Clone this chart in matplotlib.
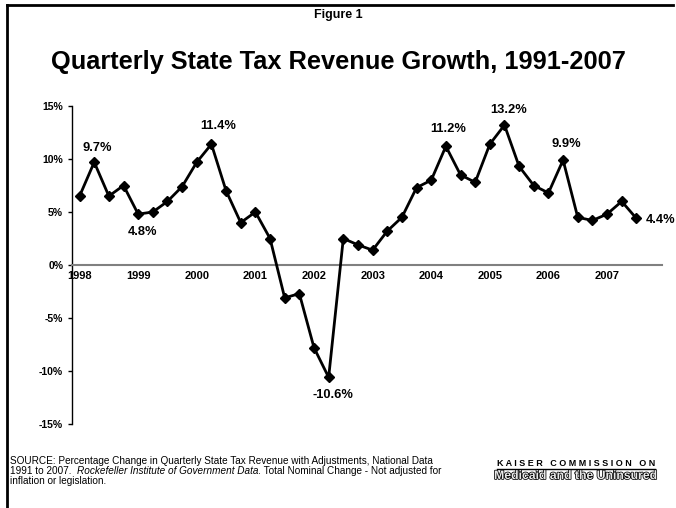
import matplotlib
matplotlib.use("Agg")
import matplotlib.pyplot as plt
from matplotlib.lines import Line2D
import matplotlib.patheffects as pe

plt.rcParams['font.family'] = ['Liberation Sans', 'DejaVu Sans']

# ---- data ----
quarters = [f"{y}Q{q}" for y in range(1998, 2008) for q in range(1, 5)][:39]
growth = [6.5, 9.7, 6.5, 7.5, 4.8, 5.0, 6.0, 7.4, 9.7, 11.4,
          7.0, 4.0, 5.0, 2.5, -3.1, -2.7, -7.8, -10.6, 2.5, 1.9,
          1.4, 3.2, 4.5, 7.3, 8.0, 11.2, 8.5, 7.8, 11.4, 13.2,
          9.3, 7.5, 6.8, 9.9, 4.5, 4.2, 4.8, 6.0, 4.4]
year_labels = ["1998", "1999", "2000", "2001", "2002",
               "2003", "2004", "2005", "2006", "2007"]
y_ticks = [-15, -10, -5, 0, 5, 10, 15]
labelled = [1, 9, 4, 17, 25, 29, 33, 38]

# label placement (pixels offset): above / below / right
label_pos = {1: (3, 14, 'center'), 9: (7, 18, 'center'), 4: (4, -18, 'center'),
             17: (4, -18, 'center'), 25: (2, 17, 'center'), 29: (4, 15, 'center'),
             33: (3, 16, 'center'), 38: (9, -2, 'left')}

fig = plt.figure(figsize=(6.76, 5.08), dpi=100)
W, H = 676, 508
ax = fig.add_axes([71.5 / W, 1 - 424 / H, (662 - 71.5) / W, (424 - 106) / H])

for s in ['top', 'right']:
    ax.spines[s].set_visible(False)
ax.spines['bottom'].set_position(('data', 0))
ax.spines['bottom'].set_color('#808080')
ax.spines['bottom'].set_linewidth(1.5)
ax.spines['left'].set_linewidth(1.0)

x = list(range(len(growth)))
ax.plot(x, growth, color='black', lw=2.0, marker='D', markersize=5.5,
        markerfacecolor='black', markeredgecolor='black', zorder=3)

for i in labelled:
    dx, dy, ha = label_pos[i]
    ax.annotate(f"{growth[i]:.1f}%", (x[i], growth[i]), xytext=(dx, dy),
                textcoords='offset pixels', ha=ha, va='center',
                fontsize=9.3, fontweight='bold')

ax.set_xlim(-0.55, 39.75)
ax.set_ylim(-15, 15)
ax.set_yticks(y_ticks)
ax.set_yticklabels([f"{v}%" for v in y_ticks], fontsize=7.5, fontweight='bold')
ax.set_xticks(list(range(0, 39, 4)))
ax.set_xticklabels(year_labels, fontsize=8, fontweight='bold')
ax.tick_params(axis='x', length=0, pad=4)
ax.tick_params(axis='y', length=3, width=1.0, direction='out', pad=3)
ax.patch.set_alpha(0)

# frame lines (left and top)
fig.add_artist(Line2D([7 / W, 7 / W], [0, 1 - 5 / H], color='black', lw=2.0,
                      transform=fig.transFigure))
fig.add_artist(Line2D([7 / W, 673 / W], [1 - 5 / H, 1 - 5 / H], color='black', lw=2.0,
                      transform=fig.transFigure))

fig.text(338 / W, 1 - 15 / H, "Figure 1", ha='center', va='center',
         fontsize=9, fontweight='bold')
fig.text(338 / W, 1 - 62 / H, "Quarterly State Tax Revenue Growth, 1991-2007",
         ha='center', va='center', fontsize=18.3, fontweight='bold')

# source text
fs = 7.2
fig.text(10 / W, 1 - 461 / H,
         "SOURCE: Percentage Change in Quarterly State Tax Revenue with Adjustments, National Data",
         ha='left', va='center', fontsize=fs)
t1 = fig.text(10 / W, 1 - 471 / H, "1991 to 2007.  ", ha='left', va='center', fontsize=fs)
fig.canvas.draw()
r = fig.canvas.get_renderer()
bb = t1.get_window_extent(r)
t2 = fig.text(bb.x1 / W, 1 - 471 / H, "Rockefeller Institute of Government Data.",
              ha='left', va='center', fontsize=fs, style='italic')
bb2 = t2.get_window_extent(r)
fig.text(bb2.x1 / W, 1 - 471 / H, " Total Nominal Change - Not adjusted for",
         ha='left', va='center', fontsize=fs)
fig.text(10 / W, 1 - 481 / H, "inflation or legislation.", ha='left', va='center', fontsize=fs)

# logo
k = fig.text(576 / W, 1 - 463 / H, "K A I S E R   C O M M I S S I O N   O N",
             ha='center', va='center', fontsize=6.5, fontweight='bold')
kb = k.get_window_extent(r)
fig.add_artist(Line2D([kb.x0 / W, kb.x1 / W], [(kb.y0 - 1) / H, (kb.y0 - 1) / H],
                      color='black', lw=1.0, transform=fig.transFigure))
fig.text(576 / W, 1 - 476 / H, "Medicaid and the Uninsured", ha='center', va='center',
         fontsize=8.8, fontweight='bold', color='#e8e8e8',
         path_effects=[pe.withStroke(linewidth=1.1, foreground='black')])

fig.savefig("out.png", dpi=100)
